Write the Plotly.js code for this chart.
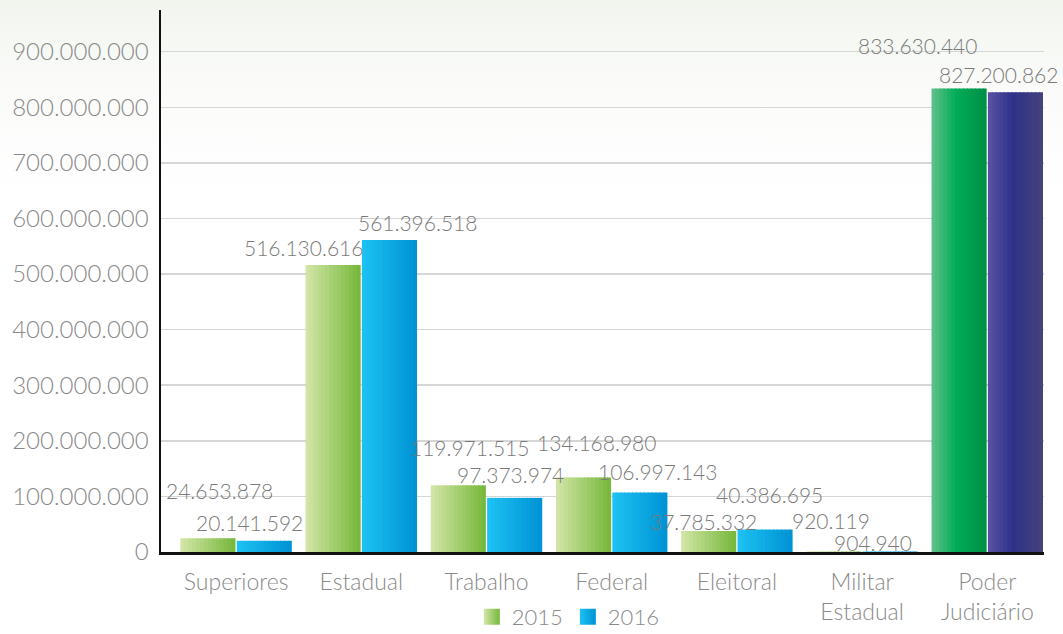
<!DOCTYPE html>
<html>
<head>
<meta charset="utf-8">
<script src="https://cdn.plot.ly/plotly-3.0.1.min.js"></script>
<style>
  html, body { margin: 0; padding: 0; background: #ffffff; }
  #chart { width: 1063px; height: 634px;
    background: linear-gradient(to bottom, #f1f5ee 0px, #fafbf9 80px, #ffffff 200px); }
</style>
</head>
<body>
<div id="chart"></div>
<script>
// ---- data ----
const categories = ["Superiores", "Estadual", "Trabalho", "Federal", "Eleitoral", "Militar<br>Estadual", "Poder<br>Judiciário"];
const seriesNames = ["2015", "2016"];
const values2015 = [24653878, 516130616, 119971515, 134168980, 37785332, 920119, 833630440];
const values2016 = [20141592, 561396518, 97373974, 106997143, 40386695, 904940, 827200862];
const yTickValues = [0, 100000000, 200000000, 300000000, 400000000, 500000000, 600000000, 700000000, 800000000, 900000000];

// ---- label placement (pixel nudges, layout only) ----
const labelDx = [[12, -30, 11, 13, -5, -3, -42], [-15, 28, -4, 18, 4, -17, -17]];
const labelDy = [[48, 18, 38, 35, 10, 31, 43], [18, 17, 23, 21, 35, 9, 18]];

// ---- styling helpers ----
const FONT = 'Lato, Roboto, "DejaVu Sans", sans-serif';
function hex2rgb(h) { h = h.replace('#', ''); return [0, 2, 4].map(i => parseInt(h.substr(i, 2), 16)); }
function grad(stops, t) {
  for (let i = 0; i < stops.length - 1; i++) {
    const [t0, c0] = stops[i], [t1, c1] = stops[i + 1];
    if (t >= t0 && t <= t1) {
      const f = (t - t0) / (t1 - t0 || 1);
      const a = hex2rgb(c0), b = hex2rgb(c1);
      return 'rgb(' + a.map((v, j) => Math.round(v + (b[j] - v) * f)).join(',') + ')';
    }
  }
  return stops[stops.length - 1][1];
}
const gradients = [
  { normal: [[0, '#d3e6a8'], [1, '#75b739']], last: [[0, '#62c08b'], [0.45, '#00ac56'], [1, '#008f47']] },
  { normal: [[0, '#1dc2f3'], [1, '#0092d4']], last: [[0, '#5b53a4'], [0.45, '#2e3189'], [1, '#44437a']] }
];
function fmt(n) { return String(n).replace(/\B(?=(\d{3})+(?!\d))/g, '.'); }

const seriesValues = [values2015, values2016];
const barW = 0.44;
const offsets = [-0.445, 0.005];
const N = 14;
const sliceW = barW / N;
const traces = [];
seriesValues.forEach((vals, s) => {
  for (let k = 0; k < N; k++) {
    const t = (k + 0.5) / N;
    const colors = categories.map((c, i) => grad(i === categories.length - 1 ? gradients[s].last : gradients[s].normal, t));
    traces.push({
      type: 'bar',
      x: categories,
      y: vals,
      name: seriesNames[s],
      legendgroup: seriesNames[s],
      showlegend: false,
      width: k === N - 1 ? sliceW : sliceW * 1.25,
      offset: offsets[s] + k * sliceW,
      marker: { color: colors, line: { width: 0 } },
      hoverinfo: 'skip'
    });
  }
});
// legend entries (gradient square swatches)
seriesNames.forEach((nm, s) => {
  const st = gradients[s].normal;
  traces.push({
    type: 'scatter', mode: 'markers',
    x: [null], y: [null],
    name: nm, legendgroup: nm, showlegend: true,
    marker: { symbol: 'square', size: 20, color: st[0][1],
      gradient: { type: 'horizontal', color: st[st.length - 1][1] }, line: { width: 0 } },
    hoverinfo: 'skip'
  });
});

const annotations = [];
seriesValues.forEach((vals, s) => {
  vals.forEach((v, i) => {
    annotations.push({
      x: i + offsets[s] + barW / 2, y: v, xref: 'x', yref: 'y',
      text: fmt(v), showarrow: false,
      xanchor: 'center', yanchor: 'middle',
      xshift: labelDx[s][i], yshift: labelDy[s][i],
      font: { family: FONT, size: 21, color: '#7a7a7a', weight: 300 }
    });
  });
});

const layout = {
  width: 1063, height: 634,
  margin: { l: 161, r: 19, t: 10, b: 82, autoexpand: false },
  paper_bgcolor: 'rgba(0,0,0,0)',
  plot_bgcolor: 'rgba(0,0,0,0)',
  separators: ',.',
  barmode: 'overlay',
  font: { family: FONT, size: 22, color: '#8a8a8a', weight: 300 },
  xaxis: {
    type: 'category',
    range: [-0.6, 6.453],
    showline: true, linecolor: '#111111', linewidth: 2.5,
    showgrid: false, zeroline: false,
    ticks: 'outside', ticklen: 8, tickcolor: 'rgba(0,0,0,0)',
    tickfont: { family: FONT, size: 23, color: '#8a8a8a', weight: 300 },
    fixedrange: true
  },
  yaxis: {
    range: [0, 975000000],
    tickvals: yTickValues,
    ticktext: yTickValues.map(fmt),
    showline: true, linecolor: '#111111', linewidth: 2.5,
    showgrid: true, gridcolor: '#d6d6d6', gridwidth: 1.5,
    zeroline: false,
    ticks: 'outside', ticklen: 5, tickcolor: 'rgba(0,0,0,0)',
    tickfont: { family: FONT, size: 24, color: '#8a8a8a', weight: 300 },
    fixedrange: true
  },
  legend: {
    orientation: 'h', x: 0.352, xanchor: 'left', y: -0.12, yanchor: 'middle',
    font: { family: FONT, size: 22, color: '#8a8a8a', weight: 300 },
    bgcolor: 'rgba(0,0,0,0)', itemwidth: 30, tracegroupgap: 0
  },
  annotations: annotations,
  showlegend: true
};

Plotly.newPlot('chart', traces, layout, { displayModeBar: false, staticPlot: true });
</script>
</body>
</html>
